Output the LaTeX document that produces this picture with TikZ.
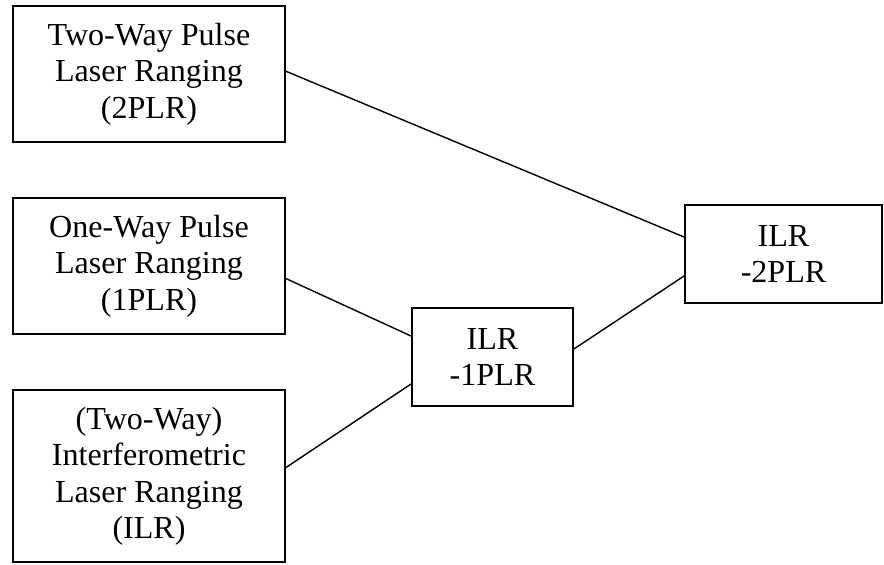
\documentclass[tikz,border=0pt]{standalone}
\usepackage{fontspec}
\setmainfont{Liberation Serif}
\usetikzlibrary{calc,positioning}

\begin{document}
\begin{tikzpicture}[x=0.025cm, y=-0.025cm, node distance = 1.36cm,
  block/.style args = {#1,#2}{draw, line width=1.2pt, minimum width=#1, minimum height=#2, inner sep=0pt, align=center, font=\fontsize{22.8}{26}\selectfont},
  link/.style = {line width=1pt}]
\useasboundingbox (0,0) rectangle (884,565);
% left column: the three ranging methods
\node (twoPLR) [block={6.8cm,3.4cm}] at (149,74) {Two-Way Pulse\\Laser Ranging\\(2PLR)};
\node (onePLR) [block={6.8cm,3.4cm}, below=of twoPLR] {One-Way Pulse\\Laser Ranging\\(1PLR)};
\node (ILR) [block={6.8cm,4.3cm}, below=of onePLR] {(Two-Way)\\Interferometric\\Laser Ranging\\(ILR)};
% combined methods
\node (ilrOne) [block={4.025cm,2.45cm}] at (492.5,357) {ILR\\-1PLR};
\node (ilrTwo) [block={4.925cm,2.45cm}] at (783.5,254) {ILR\\-2PLR};
\draw[link] ($(twoPLR.north east)!0.48!(twoPLR.south east)$) -- ($(ilrTwo.north west)!0.33!(ilrTwo.south west)$);
\draw[link] ($(onePLR.north east)!0.59!(onePLR.south east)$) -- ($(ilrOne.north west)!0.29!(ilrOne.south west)$);
\draw[link] ($(ILR.north east)!0.45!(ILR.south east)$) -- ($(ilrOne.north west)!0.77!(ilrOne.south west)$);
\draw[link] ($(ilrOne.north east)!0.42!(ilrOne.south east)$) -- ($(ilrTwo.north west)!0.72!(ilrTwo.south west)$);
\end{tikzpicture}
\end{document}
